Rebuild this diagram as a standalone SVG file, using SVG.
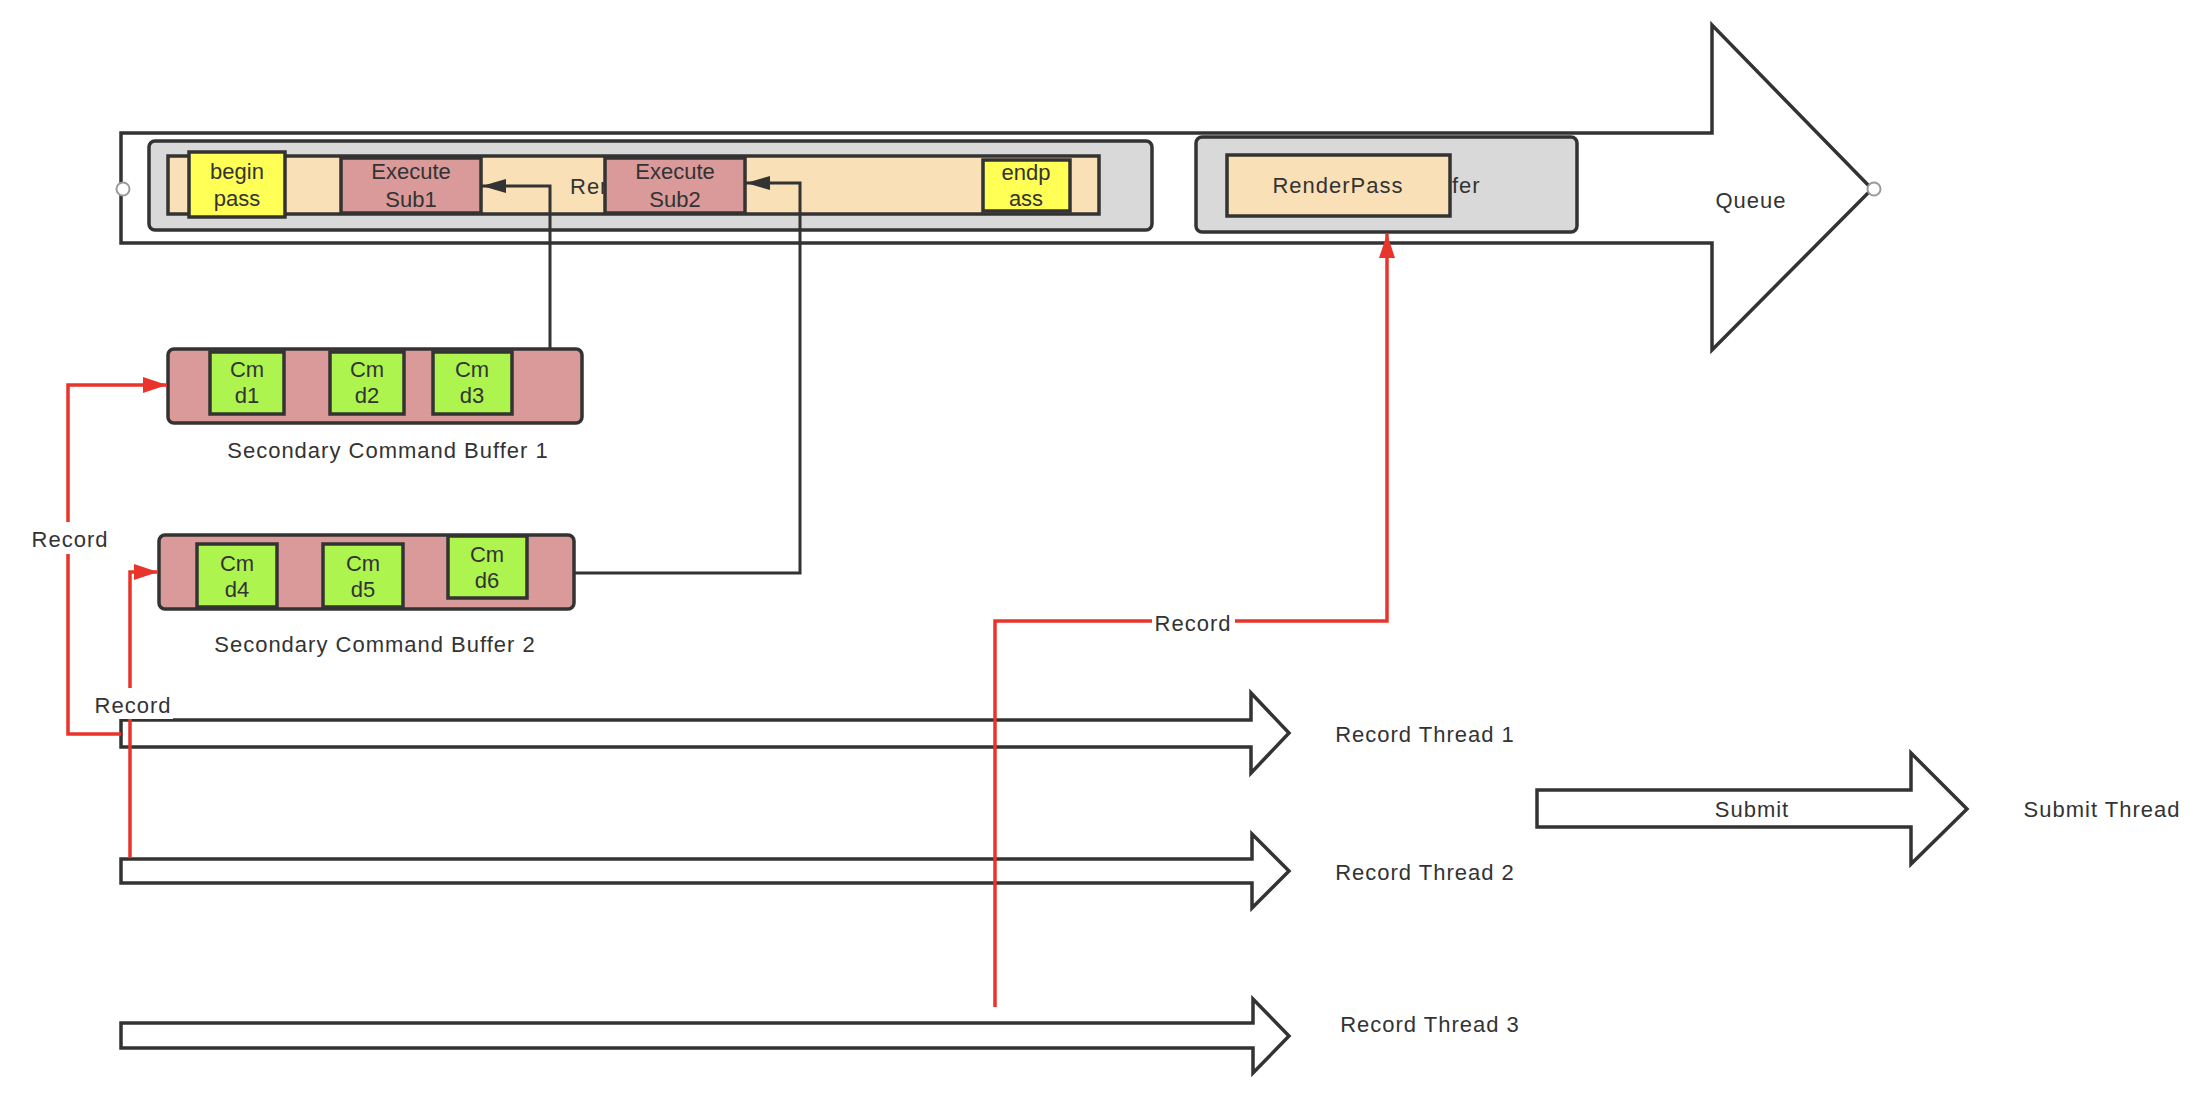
<svg xmlns="http://www.w3.org/2000/svg" width="2212" height="1106" viewBox="0 0 2212 1106">
<defs>
<style>
.t{font-family:"Liberation Sans",Arial,sans-serif;font-size:22px;fill:#333333;text-anchor:middle}
.lb{letter-spacing:1px}
.st{fill:none;stroke:#333333;stroke-width:3}
.big{fill:#ffffff;stroke:#333333;stroke-width:3.5;stroke-linejoin:miter}
.gray{fill:#d9d9d9;stroke:#333333;stroke-width:3.5}
.beige{fill:#f9e0b6;stroke:#333333;stroke-width:3.5}
.pink{fill:#da9a9a;stroke:#333333;stroke-width:3.5}
.green{fill:#aef44f;stroke:#333333;stroke-width:3.5}
.yellow{fill:#ffff55;stroke:#333333;stroke-width:3.5}
.blk{fill:none;stroke:#333333;stroke-width:3;marker-end:url(#ab)}
.red{fill:none;stroke:#e8342a;stroke-width:3.5}
.redA{marker-end:url(#ar)}
.bg{fill:#ffffff}
.port{fill:#ffffff;stroke:#9a9a9a;stroke-width:2}
</style>
<marker id="ab" markerUnits="userSpaceOnUse" markerWidth="26" markerHeight="16" refX="24" refY="7" orient="auto" viewBox="0 0 26 16">
<path d="M0,0 L24,7 L0,14 Z" fill="#333333"/>
</marker>
<marker id="ar" markerUnits="userSpaceOnUse" markerWidth="26" markerHeight="18" refX="24" refY="8" orient="auto" viewBox="0 0 26 18">
<path d="M0,0 L24,8 L0,16 Z" fill="#e8342a"/>
</marker>
</defs>
<rect width="2212" height="1106" fill="#ffffff"/>

<g id="queue">
<polygon class="big" points="121,133 1712,133 1712,25 1872,189 1712,350 1712,243 121,243"/>
<text class="t lb" x="1751" y="208">Queue</text>
<circle class="port" cx="123" cy="189" r="6.5"/>
<circle class="port" cx="1874" cy="189" r="6.5"/>
</g>

<g id="primary-cb-1">
<rect class="gray" x="149" y="141" width="1003" height="89" rx="6"/>
</g>
<g id="renderpass-1">
<rect class="beige" x="168" y="156" width="931" height="58"/>
<text class="t lb" x="570" y="194" style="text-anchor:start">Ren</text>
</g>
<g id="begin-pass">
<rect class="yellow" x="189" y="152" width="96" height="65"/>
<text class="t" x="237" y="179">begin</text>
<text class="t" x="237" y="206">pass</text>
</g>
<g id="execute-sub1">
<rect class="pink" x="341" y="158" width="140" height="55"/>
<text class="t" x="411" y="179">Execute</text>
<text class="t" x="411" y="207">Sub1</text>
</g>
<g id="execute-sub2">
<rect class="pink" x="605" y="158" width="140" height="55"/>
<text class="t" x="675" y="179">Execute</text>
<text class="t" x="675" y="207">Sub2</text>
</g>
<g id="end-pass">
<rect class="yellow" x="983" y="160" width="87" height="51"/>
<text class="t" x="1026" y="180">endp</text>
<text class="t" x="1026" y="206">ass</text>
</g>

<g id="primary-cb-2">
<rect class="gray" x="1196" y="137" width="381" height="95" rx="6"/>
<text class="t lb" x="1452" y="193" style="text-anchor:start">fer</text>
</g>
<g id="renderpass-2">
<rect class="beige" x="1227" y="155" width="223" height="61"/>
<text class="t lb" x="1338" y="193">RenderPass</text>
</g>

<g id="secondary-cb-1">
<rect class="pink" x="168" y="349" width="414" height="74" rx="6"/>
<text class="t lb" x="388" y="458">Secondary Command Buffer 1</text>
</g>
<g id="cmd1">
<rect class="green" x="210" y="352" width="74" height="62"/>
<text class="t" x="247" y="377">Cm</text>
<text class="t" x="247" y="403">d1</text>
</g>
<g id="cmd2">
<rect class="green" x="330" y="352" width="74" height="62"/>
<text class="t" x="367" y="377">Cm</text>
<text class="t" x="367" y="403">d2</text>
</g>
<g id="cmd3">
<rect class="green" x="433" y="352" width="79" height="62"/>
<text class="t" x="472" y="377">Cm</text>
<text class="t" x="472" y="403">d3</text>
</g>

<g id="secondary-cb-2">
<rect class="pink" x="159" y="535" width="415" height="74" rx="6"/>
<text class="t lb" x="375" y="652">Secondary Command Buffer 2</text>
</g>
<g id="cmd4">
<rect class="green" x="197" y="544" width="80" height="63"/>
<text class="t" x="237" y="571">Cm</text>
<text class="t" x="237" y="597">d4</text>
</g>
<g id="cmd5">
<rect class="green" x="323" y="544" width="80" height="63"/>
<text class="t" x="363" y="571">Cm</text>
<text class="t" x="363" y="597">d5</text>
</g>
<g id="cmd6">
<rect class="green" x="448" y="536" width="79" height="62"/>
<text class="t" x="487" y="562">Cm</text>
<text class="t" x="487" y="588">d6</text>
</g>

<g id="record-thread-1">
<polygon class="big" points="121,720 1251,720 1251,693 1289,733 1251,773 1251,747 121,747"/>
<text class="t lb" x="1425" y="742">Record Thread 1</text>
</g>
<g id="record-thread-2">
<polygon class="big" points="121,859 1252,859 1252,834 1289,871 1252,908 1252,883 121,883"/>
<text class="t lb" x="1425" y="880">Record Thread 2</text>
</g>
<g id="record-thread-3">
<polygon class="big" points="121,1023 1253,1023 1253,999 1289,1036 1253,1073 1253,1048 121,1048"/>
<text class="t lb" x="1430" y="1032">Record Thread 3</text>
</g>
<g id="submit-thread">
<polygon class="big" points="1537,790 1911,790 1911,753 1967,809 1911,864 1911,827 1537,827"/>
<text class="t lb" x="1752" y="817">Submit</text>
<text class="t lb" x="2102" y="817">Submit Thread</text>
</g>

<g id="connectors">
<path class="blk" d="M550,349 L550,186 L482,186"/>
<path class="blk" d="M574,573 L800,573 L800,183 L746,183"/>
<path class="red redA" d="M121,734 L68,734 L68,385 L167,385"/>
<rect class="bg" x="30" y="522" width="80" height="32"/>
<text class="t lb" x="70" y="547">Record</text>
<path class="red redA" d="M130,858 L130,572 L158,572"/>
<rect class="bg" x="93" y="688" width="80" height="31"/>
<text class="t lb" x="133" y="713">Record</text>
<path class="red redA" d="M995,1007 L995,621 L1387,621 L1387,234"/>
<rect class="bg" x="1152" y="606" width="83" height="31"/>
<text class="t lb" x="1193" y="631">Record</text>
</g>
</svg>
